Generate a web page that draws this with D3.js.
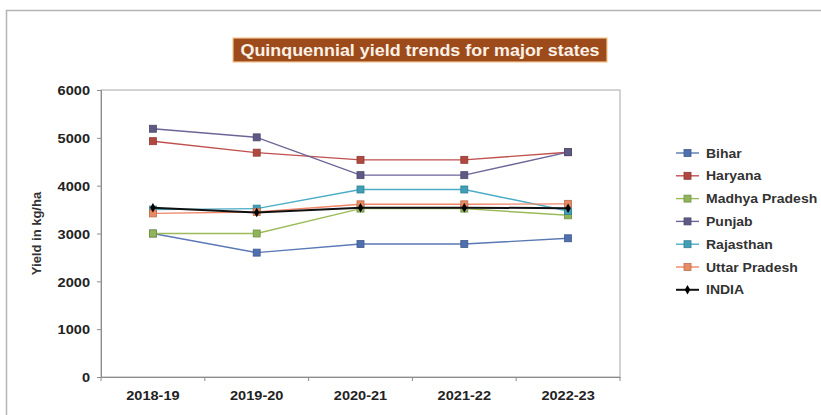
<!DOCTYPE html>
<html>
<head>
<meta charset="utf-8">
<script src="https://cdn.jsdelivr.net/npm/d3@7"></script>
<style>
  html, body { margin: 0; padding: 0; background: #fff; }
  svg { display: block; }
  text { font-family: "Liberation Sans", Arial, sans-serif; }
</style>
</head>
<body>
<svg id="chart" width="821" height="415"></svg>
<script>
// Crop years on the x axis
const years = ["2018-19", "2019-20", "2020-21", "2021-22", "2022-23"];

// Yield (kg/ha) per state
const bihar         = [3000, 2600, 2780, 2780, 2900];
const haryana       = [4930, 4690, 4540, 4540, 4700];
const madhyaPradesh = [3000, 3000, 3520, 3520, 3380];
const punjab        = [5190, 5010, 4220, 4220, 4700];
const rajasthan     = [3500, 3520, 3920, 3920, 3470];
const uttarPradesh  = [3420, 3450, 3610, 3610, 3620];
const india         = [3540, 3440, 3540, 3540, 3530];

const seriesNames = ["Bihar", "Haryana", "Madhya Pradesh", "Punjab", "Rajasthan", "Uttar Pradesh", "INDIA"];
const yTicks = [0, 1000, 2000, 3000, 4000, 5000, 6000];
const titleText = "Quinquennial yield trends for major states";
const yTitle = "Yield in kg/ha";

const seriesValues = [bihar, haryana, madhyaPradesh, punjab, rajasthan, uttarPradesh, india];
const lineColors   = ["#5a78b4", "#c0504d", "#9bbb59", "#6e6496", "#4bacc6", "#f0866a", "#111111"];
const markFill     = ["#4f6fae", "#b0483f", "#8fb45a", "#5e5a86", "#3f9fb6", "#e88a62", "#000000"];

const svg = d3.select("#chart");
const stretch = 1.12;              // the chart's lettering is drawn slightly wide

// outer chart frame
svg.append("rect")
  .attr("x", 6.5).attr("y", 10.5).attr("width", 900).attr("height", 500)
  .attr("fill", "none").attr("stroke", "#b4b4b4").attr("stroke-width", 1.5);

// plot area
const plot = { left: 101, right: 620, top: 90, bottom: 377 };

const x = d3.scaleBand().domain(years).range([plot.left, plot.right]);
const y = d3.scaleLinear().domain([0, 6000]).range([plot.bottom, plot.top]);

svg.append("rect")
  .attr("x", plot.left).attr("y", plot.top)
  .attr("width", plot.right - plot.left).attr("height", plot.bottom - plot.top)
  .attr("fill", "#fff").attr("stroke", "#a8a8a8").attr("stroke-width", 1);

// title banner
const tg = svg.append("g").attr("transform", "translate(420,50)");
tg.append("rect")
  .attr("x", -187).attr("y", -12).attr("width", 374).attr("height", 24)
  .attr("fill", "#9e4b1b").attr("stroke", "#f6c58f").attr("stroke-width", 1.2);
tg.append("text")
  .attr("transform", `scale(${stretch},1)`)
  .attr("text-anchor", "middle").attr("dy", "0.36em")
  .attr("font-size", 16).attr("font-weight", "bold")
  .attr("fill", "#fbf1e6")
  .text(titleText);

// y axis
const yAxis = svg.append("g")
  .attr("transform", `translate(${plot.left},0)`)
  .call(d3.axisLeft(y).tickValues(yTicks).tickSize(4).tickFormat(d3.format("d")));
yAxis.select(".domain").attr("stroke", "#8c8c8c");
yAxis.selectAll(".tick line").attr("stroke", "#8c8c8c");
yAxis.selectAll(".tick text")
  .attr("x", 0).attr("dy", "0.36em")
  .attr("transform", `translate(-11,0) scale(${stretch},1)`)
  .attr("font-size", 13).attr("font-weight", "bold").attr("fill", "#222")
  .attr("font-family", "Liberation Sans, Arial, sans-serif");

// x axis, ticks on category boundaries
const xAxis = svg.append("g")
  .attr("transform", `translate(0,${plot.bottom})`)
  .call(d3.axisBottom(x).tickSize(0).tickPadding(14));
xAxis.select(".domain").attr("stroke", "#8c8c8c");
xAxis.selectAll(".tick text")
  .attr("transform", `scale(${stretch},1)`)
  .attr("font-size", 13).attr("font-weight", "bold").attr("fill", "#222")
  .attr("font-family", "Liberation Sans, Arial, sans-serif");
const bounds = years.map(d => x(d)).concat([x(years[years.length - 1]) + x.bandwidth()]);
xAxis.selectAll("line.bound").data(bounds).join("line")
  .attr("class", "bound")
  .attr("x1", d => d).attr("x2", d => d)
  .attr("y1", 0).attr("y2", 4)
  .attr("stroke", "#8c8c8c");

// y axis title
svg.append("text")
  .attr("transform", `translate(41,${(plot.top + plot.bottom) / 2}) rotate(-90)`)
  .attr("text-anchor", "middle")
  .attr("font-size", 13).attr("font-weight", "bold").attr("fill", "#333")
  .text(yTitle);

// lines and markers
const cx = d => x(d) + x.bandwidth() / 2;
const line = d3.line().x((v, i) => cx(years[i])).y(v => y(v));

function marker(g, i, px, py) {
  if (i === 6) {
    g.append("path")
      .attr("d", d3.symbol(d3.symbolDiamond, 26)())
      .attr("transform", `translate(${px},${py})`)
      .attr("fill", markFill[i]);
  } else {
    g.append("rect")
      .attr("x", px - 3.5).attr("y", py - 3.5).attr("width", 7).attr("height", 7)
      .attr("fill", markFill[i])
      .attr("stroke", d3.color(markFill[i]).darker(0.6)).attr("stroke-width", 0.8);
  }
}

const series = svg.append("g");
seriesValues.forEach((vals, i) => {
  const g = series.append("g");
  g.append("path")
    .attr("d", line(vals))
    .attr("fill", "none")
    .attr("stroke", lineColors[i])
    .attr("stroke-width", i === 6 ? 2 : 1.4);
  vals.forEach((v, j) => marker(g, i, cx(years[j]), y(v)));
});

// legend
const legend = svg.append("g");
seriesNames.forEach((name, i) => {
  const ly = 153 + i * 22.8;
  const g = legend.append("g");
  g.append("line")
    .attr("x1", 676).attr("x2", 699).attr("y1", ly).attr("y2", ly)
    .attr("stroke", lineColors[i]).attr("stroke-width", i === 6 ? 2 : 1.4);
  marker(g, i, 687.5, ly);
  g.append("text")
    .attr("transform", `translate(706,${ly}) scale(${stretch},1)`)
    .attr("dy", "0.36em")
    .attr("font-size", 12.5).attr("font-weight", "bold").attr("fill", "#333")
    .text(name);
});
</script>
</body>
</html>
